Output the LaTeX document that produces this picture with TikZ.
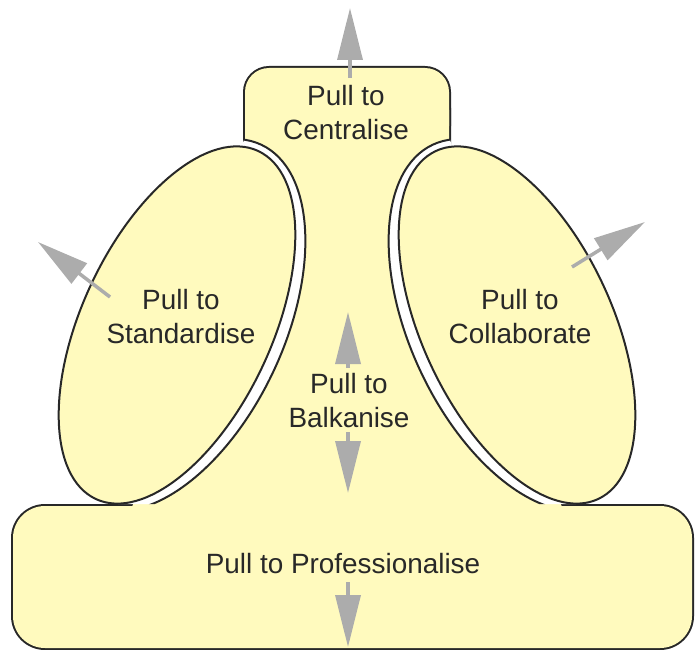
\documentclass[tikz,border=0pt]{standalone}
\usepackage{fontspec}
\setmainfont{Liberation Sans}
\usetikzlibrary{arrows.meta}
\definecolor{pullfill}{RGB}{255,250,190}
\definecolor{pulledge}{RGB}{40,40,40}
\definecolor{pullgrey}{RGB}{172,172,172}

\begin{document}
\begin{tikzpicture}[
  x=1bp, y=-1bp,
  bodyedge/.style={draw=pulledge, line width=4bp},
  bodyfill/.style={fill=pullfill},
  lobe/.style={draw=pulledge, line width=2bp, fill=pullfill},
  groove/.style={draw=pulledge, line width=2bp, fill=white},
  pull/.style={draw=pullgrey, line width=3.5bp,
               -{Triangle[length=52bp, width=25bp]}},
  label/.style={font=\fontsize{28}{35}\selectfont, text=pulledge,
                align=center, inner sep=0pt}
]
  \useasboundingbox (0,0) rectangle (695,650);

  % --- Body: top box, stem and base (edge pass, then fill pass) ---
  \draw[bodyedge, rounded corners=24bp] (245,68) rectangle (449,150);
  \draw[bodyedge, rounded corners=32bp] (13,506) rectangle (692,648);
  \draw[bodyedge] (245,110) -- (245,152) -- (138,495) -- (125,520)
    -- (569,520) -- (556,495) -- (449,152) -- (449,110) -- cycle;
  \fill[bodyfill, rounded corners=24bp] (245,68) rectangle (449,150);
  \fill[bodyfill, rounded corners=32bp] (13,506) rectangle (692,648);
  \fill[bodyfill] (245,110) -- (245,152) -- (138,495) -- (125,520)
    -- (569,520) -- (556,495) -- (449,152) -- (449,110) -- cycle;

  % --- Grooves between stem and lobes (inner side only) ---
  \begin{scope}
    \clip (244,0) -- (244,140) -- (118,504) -- (695,504) -- (695,0) -- cycle;
    \draw[groove, rotate around={65:(177,325)}]
      (177,325) ellipse [x radius=199bp, y radius=107bp];
  \end{scope}
  \begin{scope}
    \clip (450,0) -- (450,140) -- (576,504) -- (0,504) -- (0,0) -- cycle;
    \draw[groove, rotate around={115:(517,325)}]
      (517,325) ellipse [x radius=199bp, y radius=107bp];
  \end{scope}

  % --- Lobes ---
  \draw[lobe, rotate around={65:(177,325)}]
    (177,325) ellipse [x radius=192bp, y radius=95bp];
  \draw[lobe, rotate around={115:(517,325)}]
    (517,325) ellipse [x radius=192bp, y radius=95bp];

  % --- Pulls ---
  \coordinate (centreTail) at (350,78);  \coordinate (centreTip) at (350,8);
  \coordinate (standTail) at (110,297);  \coordinate (standTip) at (38,242);
  \coordinate (collabTail) at (572,267); \coordinate (collabTip) at (645,222);
  \coordinate (balkUpTail) at (348,368); \coordinate (balkUpTip) at (348,312);
  \coordinate (balkDnTail) at (348,432); \coordinate (balkDnTip) at (348,493);
  \coordinate (profTail) at (348,582);   \coordinate (profTip) at (348,647);

  \draw[pull] (centreTail) -- (centreTip);
  \draw[pull] (standTail) -- (standTip);
  \draw[pull] (collabTail) -- (collabTip);
  \draw[pull] (balkUpTail) -- (balkUpTip);
  \draw[pull] (balkDnTail) -- (balkDnTip);
  \draw[pull] (profTail) -- (profTip);

  % --- Labels ---
  \node[label] (centralise) at (346,112.5) {Pull to\\Centralise};
  \node[label] (standardise) at (181,316.5) {Pull to\\Standardise};
  \node[label] (collaborate) at (520,316.5) {Pull to\\Collaborate};
  \node[label] (balkanise) at (349,400.5) {Pull to\\Balkanise};
  \node[label, anchor=base] (professionalise) at (343,573)
    {Pull to Professionalise};
\end{tikzpicture}
\end{document}
